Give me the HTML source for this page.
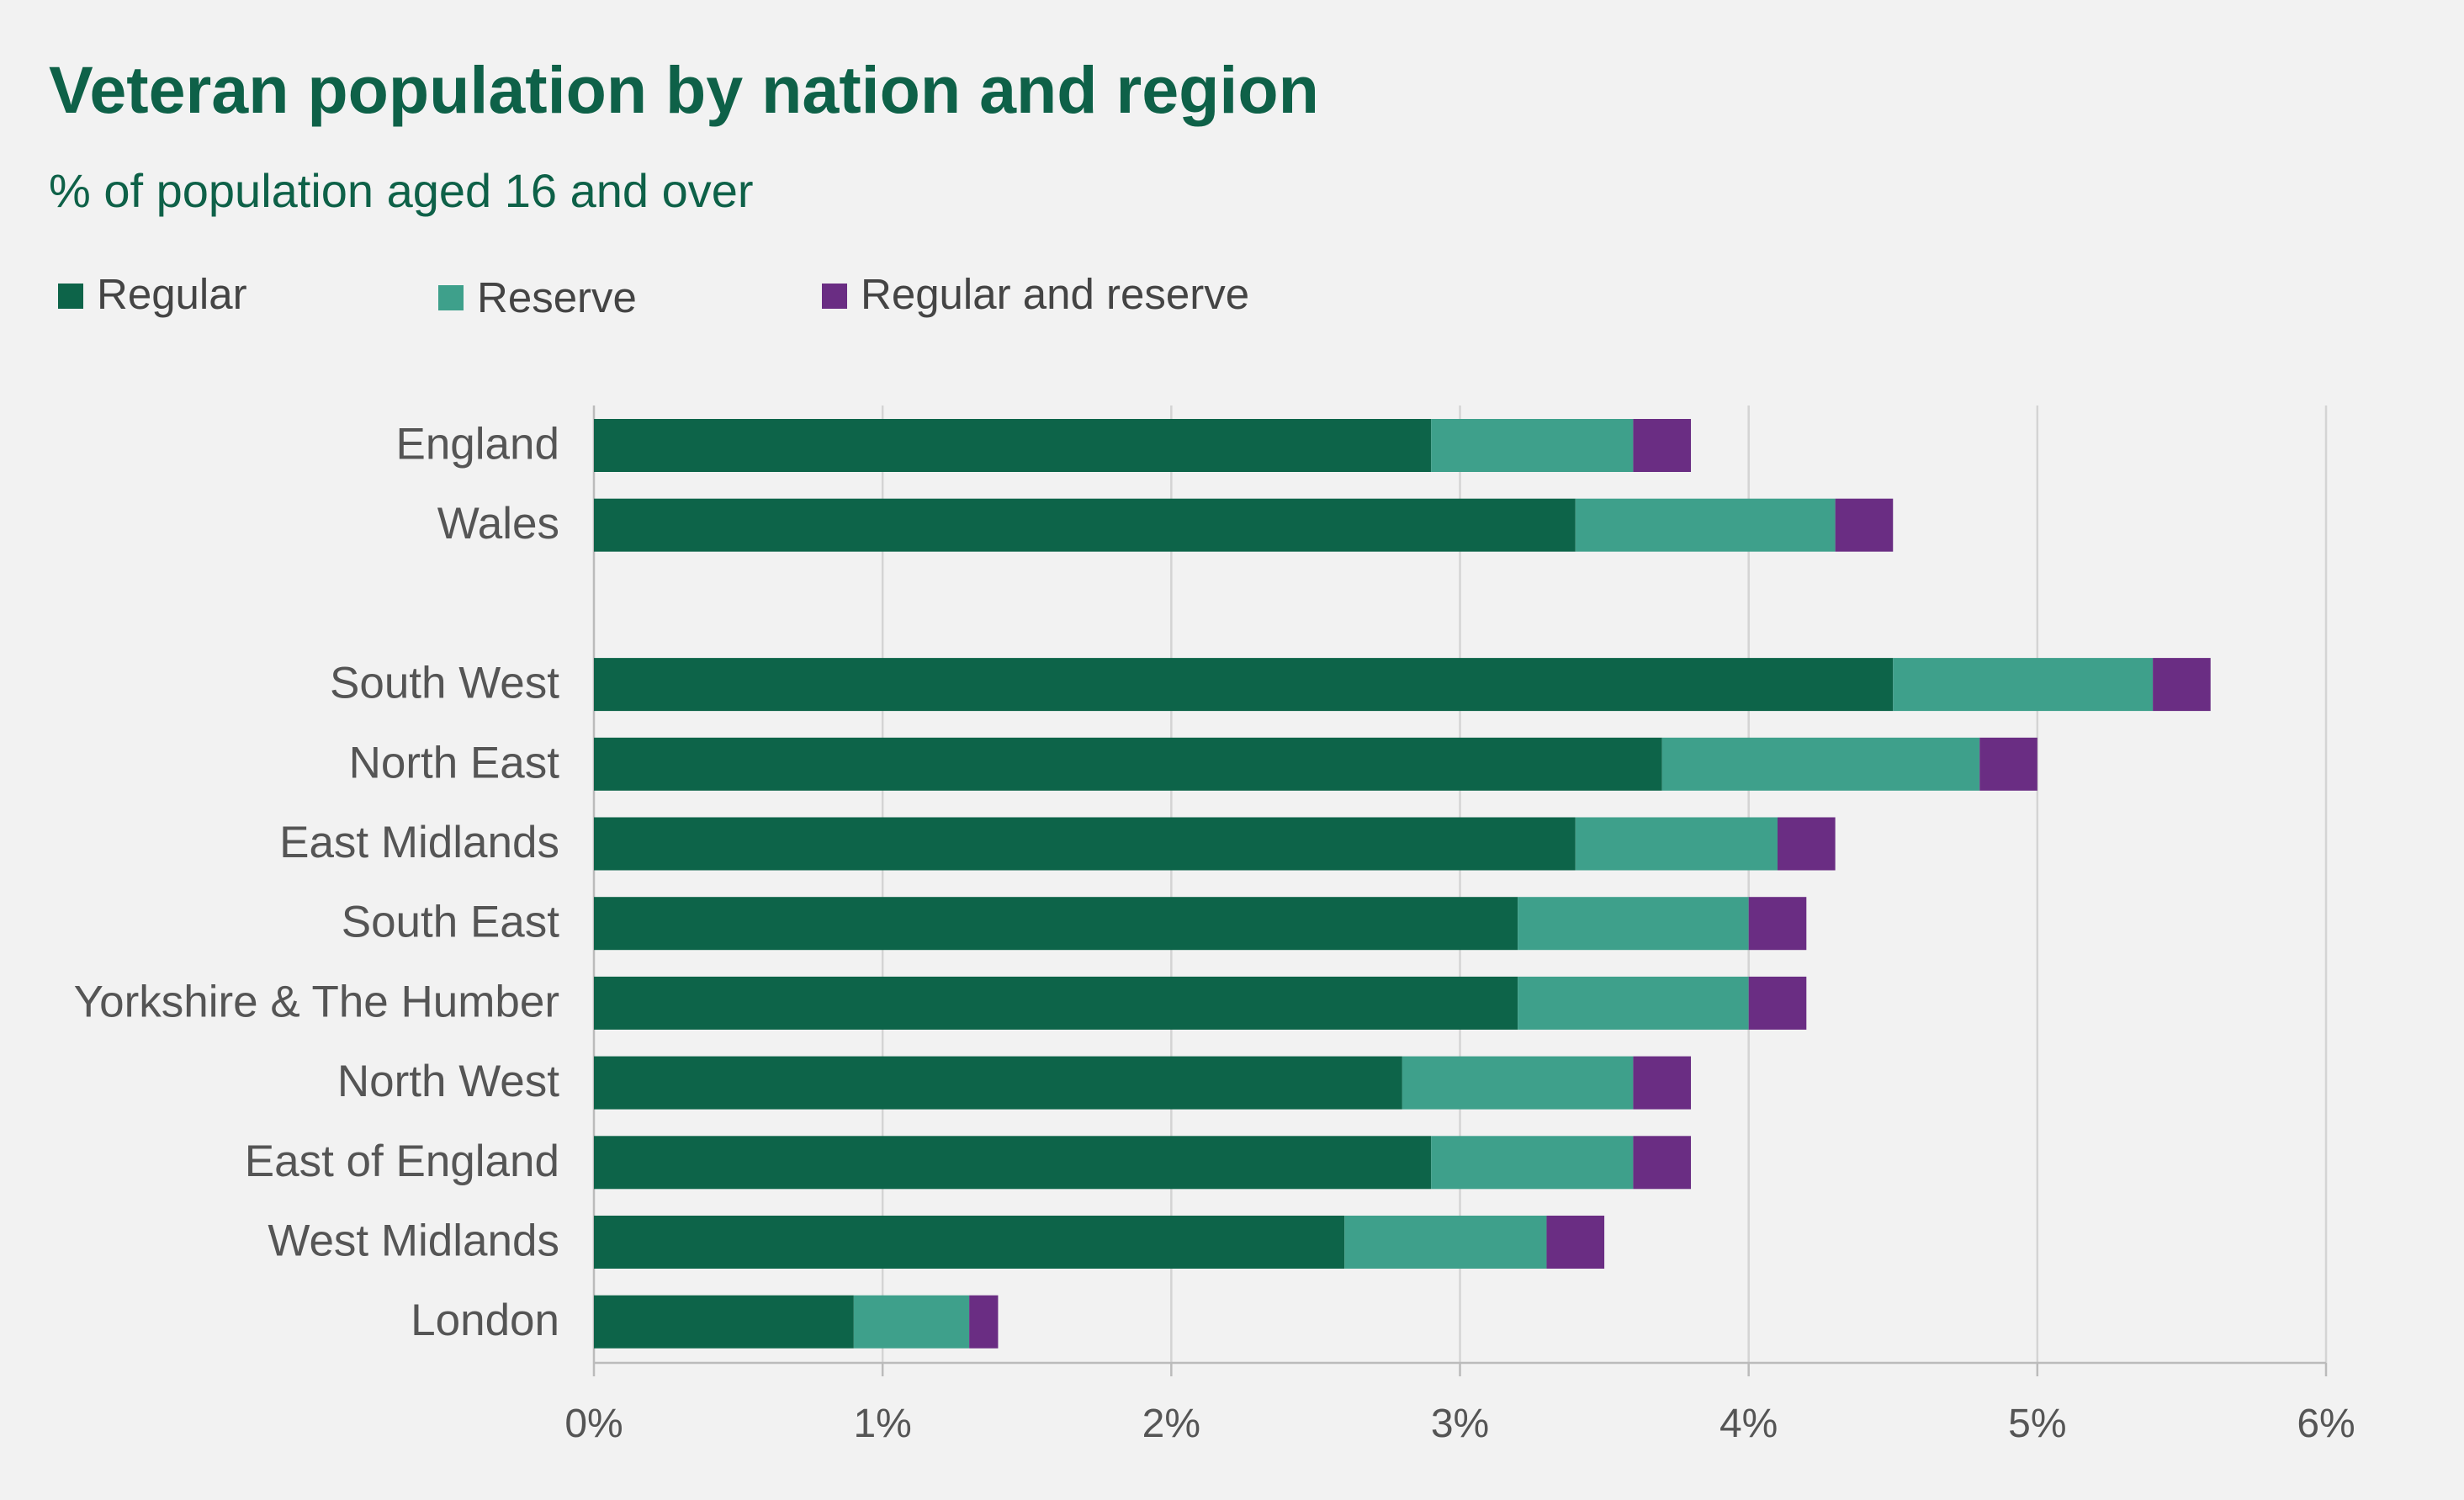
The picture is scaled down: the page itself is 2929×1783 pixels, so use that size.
<!DOCTYPE html>
<html><head><meta charset="utf-8"><style>
html,body{margin:0;padding:0;background:#f2f2f2;}
svg{display:block;}
text{font-family:"Liberation Sans",sans-serif;}
</style></head><body>
<svg id="chart" width="2929" height="1783" viewBox="0 0 2929 1783" xmlns="http://www.w3.org/2000/svg">
<rect width="2929" height="1783" fill="#f2f2f2"/>
<text x="58" y="134" font-size="79" font-weight="bold" fill="#0e6148">Veteran population by nation and region</text>
<text x="58" y="246" font-size="56" fill="#0e6148">% of population aged 16 and over</text>
<g>
<rect x="69" y="337" width="30" height="30" fill="#0d6449"/>
<text x="115" y="367" font-size="51" fill="#444">Regular</text>
<rect x="521" y="339" width="30" height="30" fill="#3ea08b"/>
<text x="567" y="371" font-size="51" fill="#444">Reserve</text>
<rect x="977" y="337" width="30" height="30" fill="#6a2d83"/>
<text x="1023" y="367" font-size="51" fill="#444">Regular and reserve</text>
</g>
<g id="grid"></g>
<g id="bars"></g>
<g id="labels"></g>
</svg>
<script>
const categories = ["England","Wales","","South West","North East","East Midlands","South East","Yorkshire & The Humber","North West","East of England","West Midlands","London"];
const regular = [2.9,3.4,0,4.5,3.7,3.4,3.2,3.2,2.8,2.9,2.6,0.9];
const reserve = [0.7,0.9,0,0.9,1.1,0.7,0.8,0.8,0.8,0.7,0.7,0.4];
const both = [0.2,0.2,0,0.2,0.2,0.2,0.2,0.2,0.2,0.2,0.2,0.1];
const ticks = [0,1,2,3,4,5,6];
const tickLabels = ["0%","1%","2%","3%","4%","5%","6%"];

const NS="http://www.w3.org/2000/svg";
const x0=706, x1=2765, xmax=6;
const xs=v=>x0+(x1-x0)*v/xmax;
const yTop=498, step=94.7, bh=63;
const ys=i=>yTop+i*step;
function mk(tag,attrs,parent){const e=document.createElementNS(NS,tag);for(const k in attrs)e.setAttribute(k,attrs[k]);parent.appendChild(e);return e;}
const grid=document.getElementById('grid'),bars=document.getElementById('bars'),labels=document.getElementById('labels');
ticks.forEach((t,i)=>{
  if(t>0){const l=mk('line',{x1:xs(t),x2:xs(t),y1:482,y2:1620,stroke:'#d4d4d4','stroke-width':2.5},grid);
  
  }
  const tk=mk('line',{x1:xs(t),x2:xs(t),y1:1620,y2:1636,stroke:'#bbb','stroke-width':2.5},grid);
  
  
  const tx=mk('text',{x:xs(t),y:1708,'font-size':48,fill:'#555','text-anchor':'middle'},labels);
  tx.textContent=tickLabels[i];
  
  
});
const ax=mk('line',{x1:x0,x2:x0,y1:482,y2:1620,stroke:'#bbb','stroke-width':2.5},grid);


const bx=mk('line',{x1:x0,x2:x1,y1:1620,y2:1620,stroke:'#bbb','stroke-width':2.5},grid);


categories.forEach((c,i)=>{
  if(!c)return;
  const y=ys(i);
  const slug=c.toLowerCase().replace(/[^a-z]+/g,'-');
  const segs=[[0,regular[i],'#0d6449','regular'],[regular[i],regular[i]+reserve[i],'#3ea08b','reserve'],[regular[i]+reserve[i],regular[i]+reserve[i]+both[i],'#6a2d83','regular-and-reserve']];
  segs.forEach(s=>{
    const r=mk('rect',{x:xs(s[0]),y:y,width:xs(s[1])-xs(s[0]),height:bh,fill:s[2]},bars);
    
    
  });
  const t=mk('text',{x:665,y:y+bh/2+16,'font-size':53,fill:'#555','text-anchor':'end'},labels);
  t.textContent=c;
  
  
});
</script>
</body></html>
